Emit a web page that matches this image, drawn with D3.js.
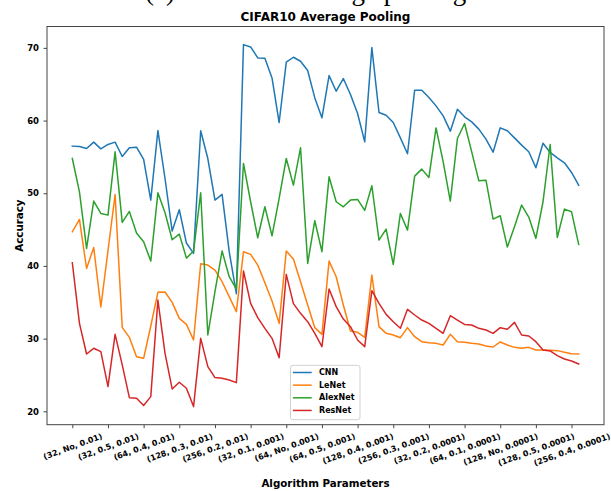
<!DOCTYPE html>
<html>
<head>
<meta charset="utf-8">
<script src="https://cdn.jsdelivr.net/npm/d3@7"></script>
<style>
  html, body { margin: 0; padding: 0; background: #ffffff; }
  svg { display: block; }
  text { font-family: "DejaVu Sans", "Liberation Sans", sans-serif; }
</style>
</head>
<body>
<svg id="chart" width="611" height="491"></svg>
<script>
// Test accuracy (%) for each hyper-parameter combination:
// learning rate (outer) x batch size x dropout (inner), 72 runs in total.
const cnnAcc = [
  56.48, 56.43, 56.16, 57.03, 56.11, 56.71, 57.03, 55.06, 56.25, 56.34, 54.65, 49.06,
  58.63, 52.03, 44.80, 47.73, 43.15, 41.73, 58.59, 54.78, 49.06, 49.84, 41.96, 36.18,
  70.45, 70.13, 68.62, 68.57, 65.87, 59.73, 68.03, 68.71, 68.16, 66.88, 63.12, 60.37,
  66.19, 64.04, 65.78, 63.58, 60.97, 57.07, 70.04, 61.11, 60.74, 59.73, 57.62, 55.43,
  64.18, 64.18, 63.17, 62.02, 60.65, 58.54, 61.57, 60.51, 59.82, 58.82, 57.44, 55.65,
  59.00, 58.59, 57.62, 56.62, 55.70, 53.50, 56.89, 55.61, 54.88, 54.19, 52.86, 51.12
];
const lenetAcc = [
  44.70, 46.40, 39.66, 42.54, 34.35, 42.09, 49.83, 31.55, 30.18, 27.52, 27.29, 31.74,
  36.37, 36.41, 34.99, 32.79, 31.96, 29.81, 40.30, 40.12, 39.43, 37.83, 35.77, 33.71,
  41.95, 41.59, 40.12, 37.69, 35.17, 32.10, 42.05, 40.95, 37.83, 34.62, 31.51, 30.59,
  40.67, 38.52, 34.62, 31.05, 30.87, 30.18, 38.75, 31.65, 30.73, 30.50, 30.13, 31.51,
  30.27, 29.58, 29.45, 29.35, 29.13, 30.59, 29.58, 29.49, 29.35, 29.26, 28.99, 28.85,
  29.54, 29.13, 28.80, 28.67, 28.80, 28.44, 28.44, 28.39, 28.35, 28.12, 27.93, 27.89
];
const alexnetAcc = [
  54.78, 50.20, 42.41, 48.92, 47.22, 46.99, 55.70, 45.99, 47.50, 44.52, 43.33, 40.67,
  50.06, 47.32, 43.60, 44.38, 41.08, 42.05, 50.06, 30.50, 36.46, 42.05, 38.52, 36.82,
  54.10, 48.83, 43.88, 48.14, 44.15, 49.29, 54.78, 51.12, 56.25, 40.35, 46.22, 41.96,
  52.26, 48.83, 48.14, 49.06, 49.15, 47.64, 51.03, 43.56, 45.07, 40.21, 47.22, 44.93,
  52.36, 53.32, 52.17, 58.99, 54.32, 48.92, 57.53, 59.59, 55.70, 51.71, 51.80, 46.45,
  46.90, 42.60, 45.39, 48.37, 46.72, 43.79, 48.83, 56.71, 43.92, 47.82, 47.45, 42.96
];
const resnetAcc = [
  40.44, 32.10, 27.89, 28.67, 28.21, 23.40, 30.59, 26.38, 21.88, 21.79, 20.79, 22.02,
  35.31, 27.98, 23.08, 24.00, 23.17, 20.65, 30.04, 26.15, 24.64, 24.54, 24.31, 23.95,
  39.30, 34.85, 32.88, 31.42, 30.04, 27.38, 38.84, 34.81, 33.48, 32.33, 30.73, 28.90,
  36.82, 34.40, 32.70, 31.65, 29.81, 28.90, 36.59, 34.85, 33.34, 32.33, 31.42, 34.03,
  33.25, 32.56, 32.10, 31.42, 30.73, 33.16, 32.56, 31.96, 31.87, 31.42, 31.19, 30.73,
  31.51, 31.28, 32.24, 30.50, 30.36, 29.58, 28.44, 28.30, 27.66, 27.20, 26.93, 26.51
];

const seriesNames = ["CNN", "LeNet", "AlexNet", "ResNet"];
const seriesColors = ["#1f77b4", "#ff7f0e", "#2ca02c", "#d62728"];
const seriesValues = [cnnAcc, lenetAcc, alexnetAcc, resnetAcc];

// Every fifth run is labelled on the x axis.
const xTickEvery = 5;
const xTickLabels = [
  "(32, No, 0.01)", "(32, 0.5, 0.01)", "(64, 0.4, 0.01)", "(128, 0.3, 0.01)",
  "(256, 0.2, 0.01)", "(32, 0.1, 0.001)", "(64, No, 0.001)", "(64, 0.5, 0.001)",
  "(128, 0.4, 0.001)", "(256, 0.3, 0.001)", "(32, 0.2, 0.0001)", "(64, 0.1, 0.0001)",
  "(128, No, 0.0001)", "(128, 0.5, 0.0001)", "(256, 0.4, 0.0001)"
];
const yTicks = [20, 30, 40, 50, 60, 70];

const chartTitle = "CIFAR10 Average Pooling";
const captionText = "(c) CIFAR10 average pooling";
const xLabel = "Algorithm Parameters";
const yLabel = "Accuracy";

// ---- layout ----
const W = 611, H = 491;
const box = { left: 47, right: 604, top: 26.5, bottom: 424.7 };

const svg = d3.select("#chart");
svg.append("rect").attr("width", W).attr("height", H).attr("fill", "#ffffff");

// scales with 5% padding on both axes
const n = cnnAcc.length;
const xPad = 0.05 * (n - 1);
const x = d3.scaleLinear().domain([-xPad, n - 1 + xPad]).range([box.left, box.right]);

const allVals = seriesValues.flat();
const vMin = d3.min(allVals), vMax = d3.max(allVals);
const yPad = 0.05 * (vMax - vMin);
const y = d3.scaleLinear().domain([vMin - yPad, vMax + yPad]).range([box.bottom, box.top]);

// figure caption sitting above the figure (mostly off the top edge)
svg.append("text")
  .attr("x", 145).attr("y", 0)
  .style("font-family", "'Liberation Serif', 'DejaVu Serif', serif")
  .style("font-size", "27px")
  .attr("fill", "#000")
  .text(captionText);

// title
svg.append("text")
  .attr("x", (box.left + box.right) / 2).attr("y", 21)
  .attr("text-anchor", "middle")
  .style("font-size", "12px").style("font-weight", "bold")
  .attr("fill", "#000")
  .text(chartTitle);

// lines
const line = d3.line()
  .x((d, i) => x(i))
  .y(d => y(d));

const plot = svg.append("g");
seriesValues.forEach((vals, k) => {
  plot.append("path")
    .datum(vals)
    .attr("d", line)
    .attr("fill", "none")
    .attr("stroke", seriesColors[k])
    .attr("stroke-width", 1.5)
    .attr("stroke-linejoin", "round")
    .attr("stroke-linecap", "square");
});

// y axis
const yAxis = d3.axisLeft(y).tickValues(yTicks).tickSize(3.5).tickPadding(4.5).tickFormat(d3.format("d"));
const yG = svg.append("g").attr("transform", `translate(${box.left},0)`).call(yAxis);
yG.select(".domain").remove();
yG.selectAll(".tick line").attr("stroke", "#333").attr("stroke-width", 0.9);
yG.selectAll(".tick text")
  .style("font-family", "'DejaVu Sans', sans-serif")
  .style("font-size", "8.5px").style("font-weight", "bold").attr("fill", "#000");

// x axis
const xTickIdx = xTickLabels.map((_, i) => i * xTickEvery);
const xAxis = d3.axisBottom(x).tickValues(xTickIdx).tickSize(3.5).tickPadding(0)
  .tickFormat((d, i) => xTickLabels[i]);
const xG = svg.append("g").attr("transform", `translate(0,${box.bottom})`).call(xAxis);
xG.select(".domain").remove();
xG.selectAll(".tick line").attr("stroke", "#333").attr("stroke-width", 0.9);

const theta = 20 * Math.PI / 180;
const lineH = 9.3;
const labelTop = 3.5 + 3.5;
xG.selectAll(".tick text")
  .style("font-family", "'DejaVu Sans', sans-serif")
  .style("font-size", "8px").style("font-weight", "bold").attr("fill", "#000")
  .each(function () {
    const L = this.getComputedTextLength();
    const bh = L * Math.sin(theta) + lineH * Math.cos(theta);
    d3.select(this)
      .attr("y", 0).attr("dy", 0)
      .attr("text-anchor", "middle")
      .attr("dominant-baseline", "central")
      .attr("transform", `translate(0,${labelTop + bh / 2}) rotate(-20)`);
  });

// frame
svg.append("rect")
  .attr("x", box.left).attr("y", box.top)
  .attr("width", box.right - box.left).attr("height", box.bottom - box.top)
  .attr("fill", "none").attr("stroke", "#444").attr("stroke-width", 1);

// axis labels
svg.append("text")
  .attr("x", (box.left + box.right) / 2).attr("y", 487)
  .attr("text-anchor", "middle")
  .style("font-size", "10.3px").style("font-weight", "bold").attr("fill", "#000")
  .text(xLabel);

svg.append("text")
  .attr("transform", `translate(19,${(box.top + box.bottom) / 2}) rotate(-90)`)
  .attr("text-anchor", "middle").attr("dominant-baseline", "central")
  .style("font-size", "10.3px").style("font-weight", "bold").attr("fill", "#000")
  .text(yLabel);

// legend
const lg = svg.append("g").attr("transform", "translate(290.5,365.3)");
lg.append("rect")
  .attr("width", 69.5).attr("height", 54.4).attr("rx", 2.5)
  .attr("fill", "#ffffff").attr("fill-opacity", 0.8)
  .attr("stroke", "#cccccc").attr("stroke-width", 0.9);
seriesNames.forEach((name, k) => {
  const yy = 7.2 + k * 12.65;
  lg.append("line")
    .attr("x1", 2.4).attr("x2", 21.2).attr("y1", yy).attr("y2", yy)
    .attr("stroke", seriesColors[k]).attr("stroke-width", 1.5);
  lg.append("text")
    .attr("x", 28.5).attr("y", yy)
    .attr("dominant-baseline", "central")
    .style("font-size", "8px").style("font-weight", "bold").attr("fill", "#000")
    .text(name);
});
</script>
</body>
</html>
